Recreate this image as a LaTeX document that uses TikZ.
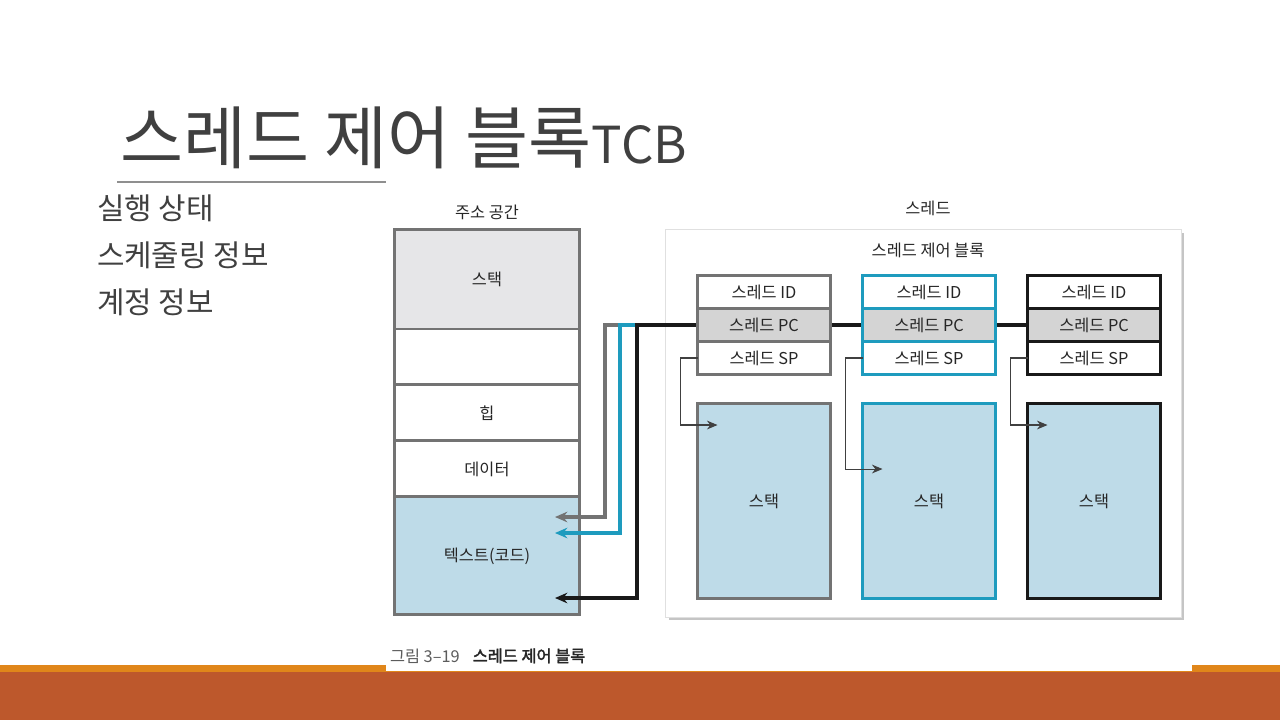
\documentclass[tikz,border=0pt]{standalone}
\usepackage{fontspec}
\setmainfont{Noto Sans CJK KR}[AutoFakeBold=2]
\usetikzlibrary{positioning, arrows.meta, shadows}

\definecolor{txtgray}{HTML}{404040}
\definecolor{boxgray}{HTML}{737373}
\definecolor{tealc}{HTML}{1E9BBE}
\definecolor{stackblue}{HTML}{BEDBE8}
\definecolor{stackgray}{HTML}{E6E6E8}
\definecolor{pcgray}{HTML}{D4D4D4}
\definecolor{barorange}{HTML}{E0861A}
\definecolor{barbrick}{HTML}{BD582C}

\pgfdeclarelayer{back}
\pgfdeclarelayer{wires}
\pgfsetlayers{back,wires,main}

\begin{document}
\begin{tikzpicture}[x=0.02cm, y=-0.02cm,
    every node/.style={outer sep=0pt, font=\fontsize{9.3}{11}\selectfont, text=black!85},
    plain/.style={inner sep=0pt, text=txtgray},
    memcell/.style={draw=boxgray, line width=1.7pt, minimum width=3.72cm, minimum height=1.12cm, inner sep=0pt},
    tcbcell/.style={draw, line width=1.7pt, minimum width=2.66cm, minimum height=0.66cm, inner sep=0pt},
    stackbox/.style={draw, line width=1.7pt, fill=stackblue, minimum width=2.66cm, minimum height=3.92cm, inner sep=0pt},
    pcline/.style={line width=1.8pt, -{Stealth[length=7pt, width=6pt]}},
    spline/.style={line width=0.6pt, draw=black!75, -{Stealth[length=6pt, width=5pt]}}]
    \useasboundingbox (0,0) rectangle (1280,720);

    % Slide
    \fill[barorange] (0,665) rectangle (1280,672);
    \fill[barbrick] (0,672) rectangle (1280,720);
    \fill[white] (386,650) rectangle (1192,671);
    \node[plain, anchor=base west, font=\fontsize{39}{44}\selectfont] (title) at (120,163) {스레드 제어 블록{\fontsize{29}{32}\selectfont TCB}};
    \draw[boxgray!80, line width=0.6pt] (117,182) -- (386,182);
    \node[plain, anchor=west, font=\fontsize{17}{20}\selectfont] (item1) at (97,208) {실행 상태};
    \node[plain, anchor=west, font=\fontsize{17}{20}\selectfont] (item2) at (97,255) {스케줄링 정보};
    \node[plain, anchor=west, font=\fontsize{17}{20}\selectfont] (item3) at (97,302) {계정 정보};

    \begin{pgfonlayer}{back}
    % Address space
    \node (memlabel) at (487,212) {주소 공간};
    \node[memcell, fill=stackgray, minimum height=2cm] (mstack) at (487,279) {스택};
    \node[memcell, fill=white, below=0pt of mstack] (mfree) {};
    \node[memcell, fill=white, below=0pt of mfree] (mheap) {힙};
    \node[memcell, fill=white, below=0pt of mheap] (mdata) {데이터};
    \node[memcell, fill=stackblue, minimum height=2.36cm, below=0pt of mdata] (mtext) {텍스트(코드)};
    % Thread panel
    \node[draw=black!12, fill=white, minimum width=10.32cm, minimum height=7.76cm,
        drop shadow={shadow xshift=2pt, shadow yshift=-2pt, fill=black!45, opacity=0.5}] (panel) at (923,423) {};
    \end{pgfonlayer}
    \node (thrlabel) at (928,208) {스레드};
    \node (tcblabel) at (928,250) {스레드 제어 블록};

    % TCBs and stacks
    \foreach \i/\cx/\col/\dy in {1/764/boxgray/22, 2/929/tealc/66, 3/1094/black!90/22} {
        \node[tcbcell, draw=\col, fill=white] (id\i) at (\cx,292) {스레드 ID};
        \node[tcbcell, draw=\col, fill=pcgray, below=0pt of id\i] (pc\i) {스레드 PC};
        \node[tcbcell, draw=\col, fill=white, below=0pt of pc\i] (sp\i) {스레드 SP};
        \node[stackbox, draw=\col] (stk\i) at (\cx,501) {스택};
        \coordinate (in\i) at ([xshift=0.4cm, yshift=-\dy*0.02cm]stk\i.north west);
        \draw[spline] (sp\i.west) -- ++(-17,0) |- (in\i);
    }

    % PC pointers
    \coordinate (ptr1) at (555,517);
    \coordinate (ptr2) at (555,533);
    \coordinate (ptr3) at (555,598);
    \begin{pgfonlayer}{wires}
    \draw[pcline, boxgray] (pc1.west) -| ([xshift=1cm]ptr1) -- (ptr1);
    \draw[pcline, tealc] (pc2.west) -| ([xshift=1.3cm]ptr2) -- (ptr2);
    \draw[pcline, black!90] (pc3.west) -| ([xshift=1.64cm]ptr3) -- (ptr3);
    \end{pgfonlayer}

    % Caption
    \node[anchor=base west, inner sep=0pt] (caption) at (390,662) {\textcolor{boxgray!80!black}{그림 3–19}\hspace{0.8em}\textbf{스레드 제어 블록}};
\end{tikzpicture}
\end{document}
